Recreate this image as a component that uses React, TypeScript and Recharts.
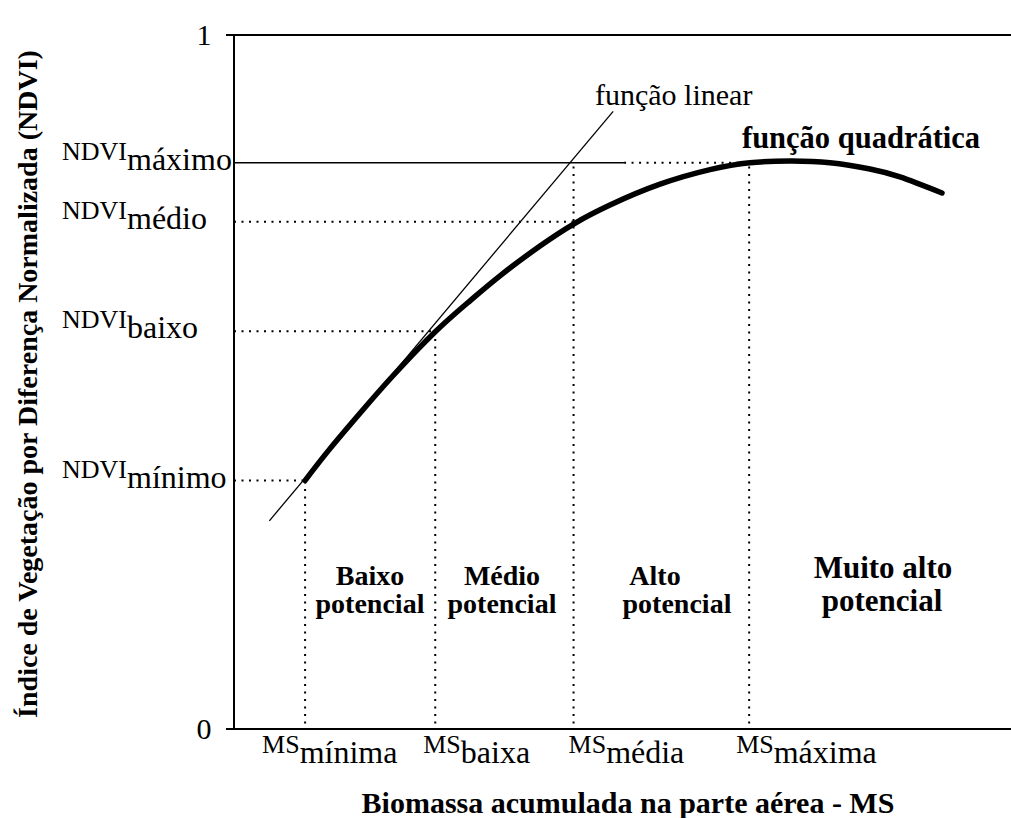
import React from "react";
import { LineChart, Line, XAxis, YAxis, ReferenceLine } from "recharts";

// biomassa em unidades arbitrárias (0–100); NDVI de 0 a 1
const msRotulos = ["mínima", "baixa", "média", "máxima"];
const msValores = [9.15, 25.9, 43.7, 66.3];

const ndviRotulos = ["mínimo", "baixo", "médio", "máximo"];
const ndviValores = [0.358, 0.573, 0.731, 0.816];

// função quadrática, lida ponto a ponto na figura
const curvaX = [9.14, 12.36, 16.6, 20.46, 25.87, 30.37, 34.23, 39.38, 43.76, 48.39, 54.83, 61.26, 66.41, 71.56, 76.71, 81.85, 85.71, 91.12];
const curvaY = [0.358, 0.404, 0.46, 0.509, 0.572, 0.617, 0.653, 0.696, 0.728, 0.755, 0.785, 0.806, 0.816, 0.8185, 0.816, 0.807, 0.7955, 0.7724];

// função linear (tangente)
const linearX = [4.55, 48.8];
const linearY = [0.3, 0.89];

// onde termina o trecho contínuo da linha do NDVI máximo
const fimTrechoSolido = 50.2;

const regioes = [
  ["Baixo", "potencial"],
  ["Médio", "potencial"],
  ["Alto", "potencial"],
  ["Muito alto", "potencial"],
];

const serif = "'Liberation Serif', 'Times New Roman', serif";
const W = 1011;
const H = 818;

const curva = curvaX.map((x, i) => ({ x, y: curvaY[i] }));
const linear = linearX.map((x, i) => ({ x, y: linearY[i] }));

// deslocamento dos rótulos MS em relação à linha pontilhada
const desvioRotuloMS = [-43, -12, -5, -13];

const TickY = (props: any) => {
  const { y, payload } = props;
  const v = payload.value;
  if (v === 0 || v === 1) {
    return (
      <g>
        <line x1={226} x2={234} y1={y} y2={y} stroke="#000" strokeWidth={2} />
        <text x={204} y={y + 10} textAnchor="middle" fontSize={30} fontFamily={serif} fill="#000">
          {v}
        </text>
      </g>
    );
  }
  const i = ndviValores.indexOf(v);
  return (
    <text x={62} y={y - 3} fontFamily={serif} fill="#000">
      <tspan fontSize={26}>NDVI</tspan>
      <tspan fontSize={32} dy={10}>
        {ndviRotulos[i]}
      </tspan>
    </text>
  );
};

const TickX = (props: any) => {
  const { x, payload } = props;
  const i = msValores.indexOf(payload.value);
  return (
    <text x={x + desvioRotuloMS[i]} y={753} fontFamily={serif} fill="#000">
      <tspan fontSize={26}>MS</tspan>
      <tspan fontSize={32} dy={10}>
        {msRotulos[i]}
      </tspan>
    </text>
  );
};

const pontilhado = { stroke: "#000", strokeWidth: 2, strokeDasharray: "2 5.5" };

export default function App() {
  const posRegioes = [
    { c1: 370, c2: 370, y1: 585, y2: 613, fs: 28 },
    { c1: 502, c2: 502, y1: 585, y2: 613, fs: 28 },
    { c1: 655, c2: 677, y1: 585, y2: 613, fs: 28 },
    { c1: 883, c2: 882, y1: 578, y2: 611, fs: 31 },
  ];

  return (
    <div style={{ position: "absolute", left: 0, top: 0, width: W, height: H, background: "#fff" }}>
      <LineChart width={W} height={H} margin={{ top: 35, right: 0, left: 0, bottom: 0 }}>
        <XAxis
          type="number"
          dataKey="x"
          domain={[0, 100]}
          ticks={msValores}
          interval={0}
          tickLine={false}
          axisLine={{ stroke: "#000", strokeWidth: 2 }}
          height={89}
          tick={<TickX />}
        />
        <YAxis
          type="number"
          domain={[0, 1]}
          ticks={[0, ...ndviValores, 1]}
          interval={0}
          tickLine={false}
          axisLine={{ stroke: "#000", strokeWidth: 2 }}
          width={234}
          tick={<TickY />}
        />

        <ReferenceLine y={1} stroke="#000" strokeWidth={2} />

        {/* NDVI máximo: trecho contínuo e trecho pontilhado */}
        <ReferenceLine
          segment={[
            { x: 0, y: ndviValores[3] },
            { x: fimTrechoSolido, y: ndviValores[3] },
          ]}
          stroke="#000"
          strokeWidth={1.5}
        />
        <ReferenceLine
          segment={[
            { x: fimTrechoSolido, y: ndviValores[3] },
            { x: msValores[3], y: ndviValores[3] },
          ]}
          {...pontilhado}
        />
        {[0, 1, 2].map((i) => (
          <ReferenceLine
            key={"h" + i}
            segment={[
              { x: 0, y: ndviValores[i] },
              { x: msValores[i], y: ndviValores[i] },
            ]}
            {...pontilhado}
          />
        ))}
        {[ndviValores[0], ndviValores[1], ndviValores[3], ndviValores[3]].map((topo, i) => (
          <ReferenceLine
            key={"v" + i}
            segment={[
              { x: msValores[i], y: 0.008 },
              { x: msValores[i], y: topo },
            ]}
            {...pontilhado}
          />
        ))}

        <Line
          data={linear}
          dataKey="y"
          type="linear"
          stroke="#000"
          strokeWidth={1.3}
          dot={false}
          isAnimationActive={false}
        />
        <Line
          data={curva}
          dataKey="y"
          type="natural"
          stroke="#000"
          strokeWidth={5.5}
          strokeLinecap="round"
          dot={false}
          isAnimationActive={false}
        />
      </LineChart>

      <svg
        width={W}
        height={H}
        style={{ position: "absolute", left: 0, top: 0, pointerEvents: "none" }}
        fontFamily={serif}
        fill="#000"
      >
        <text x={595} y={105} fontSize={30}>
          função linear
        </text>
        <text x={742} y={148} fontSize={30.5} fontWeight="bold">
          função quadrática
        </text>

        {regioes.map((r, i) => {
          const p = posRegioes[i];
          return (
            <g key={i} fontWeight="bold" fontSize={p.fs} textAnchor="middle">
              <text x={p.c1} y={p.y1}>
                {r[0]}
              </text>
              <text x={p.c2} y={p.y2}>
                {r[1]}
              </text>
            </g>
          );
        })}

        <text x={628} y={813} fontSize={30} fontWeight="bold" textAnchor="middle">
          Biomassa acumulada na parte aérea - MS
        </text>
        <text
          transform="translate(37, 384) rotate(-90)"
          fontSize={28}
          fontWeight="bold"
          textAnchor="middle"
        >
          Índice de Vegetação por Diferença Normalizada (NDVI)
        </text>
      </svg>
    </div>
  );
}
